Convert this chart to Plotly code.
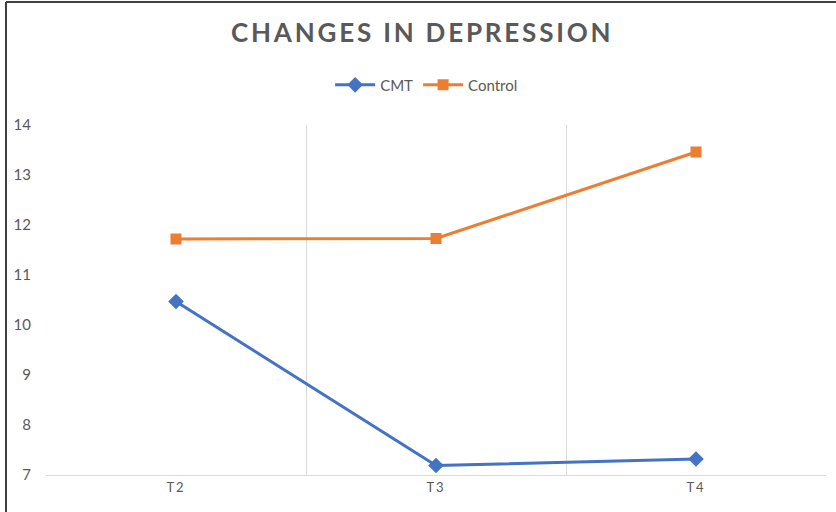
import plotly.graph_objects as go

categories = ["T2", "T3", "T4"]
cmt_values = [10.47, 7.19, 7.32]
control_values = [11.72, 11.73, 13.46]
y_ticks = [7, 8, 9, 10, 11, 12, 13, 14]

fig = go.Figure()
fig.add_trace(go.Scatter(
    x=categories, y=cmt_values, name="CMT", mode="lines+markers",
    line=dict(color="#4472C4", width=3),
    marker=dict(symbol="diamond", size=12, color="#4472C4"),
))
fig.add_trace(go.Scatter(
    x=categories, y=control_values, name="Control", mode="lines+markers",
    line=dict(color="#ED7D31", width=3),
    marker=dict(symbol="square", size=11, color="#ED7D31"),
))

fig.update_layout(
    width=836, height=512,
    margin=dict(l=46, r=10, t=125, b=37),
    paper_bgcolor="white", plot_bgcolor="white",
    font=dict(family="Lato, Open Sans, sans-serif", color="#595959"),
    title=dict(text="<b>CHANGES IN DEPRESSION</b>", x=0.505, xanchor="center",
               y=1 - 33 / 512, yanchor="middle", yref="container",
               font=dict(size=26, color="#595959", family="Lato, sans-serif")),
    legend=dict(orientation="h", x=0.488, xanchor="center", y=1.114, yanchor="middle",
                font=dict(size=15, color="#595959"), itemwidth=40,
                bgcolor="rgba(0,0,0,0)"),
    showlegend=True,
)
fig.update_xaxes(
    type="category", tickson="boundaries", range=[-0.5, 2.5],
    showgrid=True, gridcolor="#d9d9d9", gridwidth=1,
    showline=True, linecolor="#d9d9d9", linewidth=1,
    ticks="", tickfont=dict(size=13, color="#595959"),
    zeroline=False, fixedrange=True,
)
fig.update_yaxes(
    range=[7, 14], tickvals=y_ticks, showgrid=False, zeroline=False,
    showline=False, ticks="", ticklabelstandoff=14,
    tickfont=dict(size=15, color="#595959"),
)

# outer border (left and top visible)
fig.add_shape(type="line", xref="paper", yref="paper",
              x0=(6 - 46) / 780, x1=(6 - 46) / 780, y0=(475 - 520) / 350, y1=(475 - 2) / 350,
              line=dict(color="#404040", width=2))
fig.add_shape(type="line", xref="paper", yref="paper",
              x0=(6 - 46) / 780, x1=(840 - 46) / 780, y0=(475 - 2) / 350, y1=(475 - 2) / 350,
              line=dict(color="#404040", width=2))

post_js = (
    "var s=document.createElement('style');"
    "s.innerHTML='body{margin:0;padding:0;overflow:hidden}"
    " .gtitle{letter-spacing:2.8px}"
    " .xtick text{letter-spacing:2px}';"
    "document.head.appendChild(s);"
)

fig.write_html("out.html", post_script=post_js, config={"displayModeBar": False})
